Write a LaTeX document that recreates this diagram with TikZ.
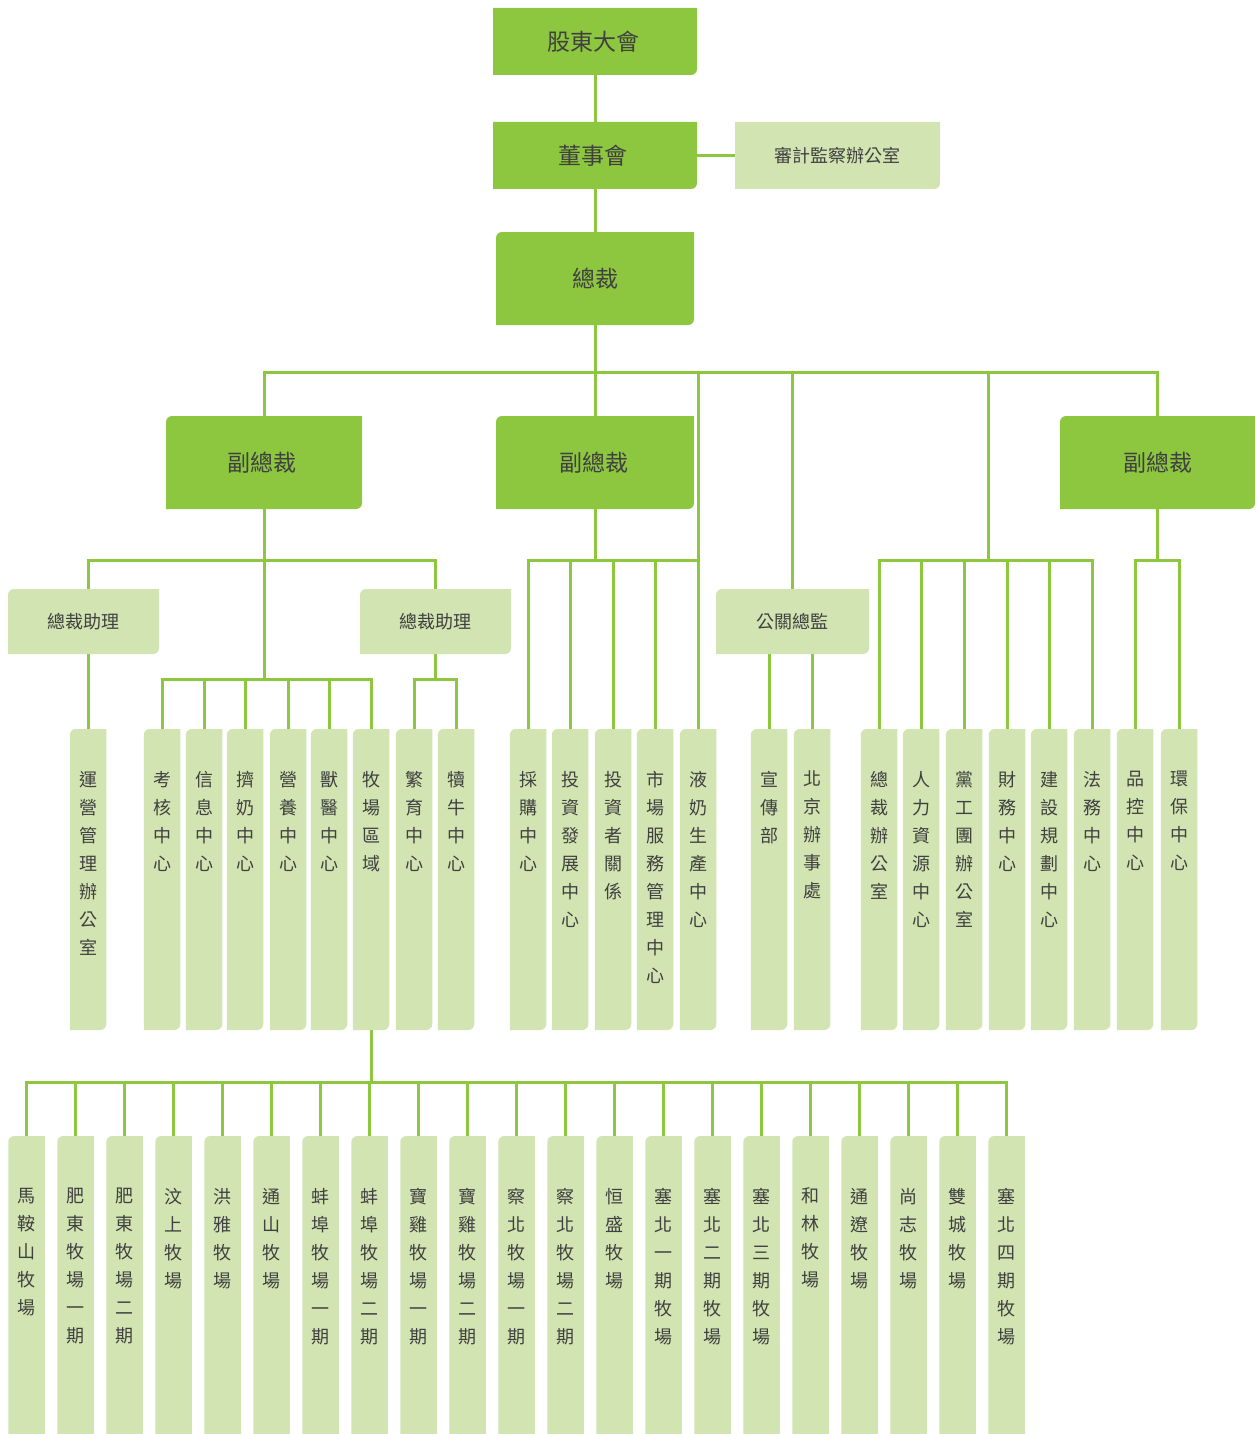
\documentclass[tikz,border=0pt]{standalone}
\usepackage{fontspec}
\newfontfamily\cjk{Noto Sans CJK TC}
\usetikzlibrary{fit,backgrounds}
\definecolor{dg}{HTML}{8DC63F}
\definecolor{lg}{HTML}{D1E4B1}
\definecolor{tx}{HTML}{404040}
% box with rounded top-left and bottom-right corners
\newcommand\obox[6]{%
  \fill[#6] (#2,{(#3+#5)/2}) [rounded corners=6pt] -- (#2,#3) -- ({(#2+#4)/2},#3) [sharp corners] -- (#4,#3) -- (#4,{(#3+#5)/2}) [rounded corners=6pt] -- (#4,#5) -- ({(#2+#4)/2},#5) [sharp corners] -- (#2,#5) -- cycle;
  \node[fit={(#2,#3) (#4,#5)}, inner sep=0pt] (#1) {};}
% box with rounded bottom-right corner only
\newcommand\oboxb[6]{%
  \fill[#6] (#2,#3) -- (#4,#3) -- (#4,{(#3+#5)/2}) [rounded corners=6pt] -- (#4,#5) -- ({(#2+#4)/2},#5) [sharp corners] -- (#2,#5) -- cycle;
  \node[fit={(#2,#3) (#4,#5)}, inner sep=0pt] (#1) {};}
% vertical box: name, centre x, top, bottom, text, text offset
\newcommand\vbx[6]{%
  \pgfmathsetmacro\xa{#2-18.25}\pgfmathsetmacro\xb{#2+18.25}%
  \obox{#1}{\xa}{#3}{\xb}{#4}{lg}%
  \node[vt, anchor=north] (#1t) at ([yshift=-#6pt]#1.north) {#5};}
\tikzset{
  ln/.style={draw=dg, line width=3pt},
  hta/.style={font=\cjk\fontsize{23}{28}\selectfont, text=tx, inner sep=0pt},
  htb/.style={font=\cjk\fontsize{18}{22}\selectfont, text=tx, inner sep=0pt},
  vt/.style={font=\cjk\fontsize{18}{28}\selectfont, text=tx, align=center, inner sep=0pt},
}
\begin{document}
\begin{tikzpicture}[x=1pt,y=-1pt]
\useasboundingbox (0,0) rectangle (1255,1434);
% top level
\oboxb{gd}{493}{8}{697}{75}{dg}   \node[hta] (gdt) at ([xshift=-2pt]gd) {股東大會};
\oboxb{dsh}{493}{122}{697}{189}{dg} \node[hta] (dsht) at ([xshift=-2pt]dsh) {董事會};
\oboxb{sj}{735}{122}{940}{189}{lg}  \node[htb] (sjt) at (sj) {審計監察辦公室};
\obox{zc}{496}{232}{694}{325}{dg}  \node[hta] (zct) at (zc) {總裁};
\obox{vp1}{166}{416}{362}{509}{dg} \node[hta] (vp1t) at ([xshift=-2pt]vp1) {副總裁};
\obox{vp2}{496}{416}{694}{509}{dg} \node[hta] (vp2t) at ([xshift=-1pt]vp2) {副總裁};
\obox{vp3}{1060}{416}{1255}{509}{dg} \node[hta] (vp3t) at (vp3) {副總裁};
\obox{zl1}{8}{589}{159}{654}{lg}   \node[htb] (zl1t) at (zl1) {總裁助理};
\obox{zl2}{360}{589}{511}{654}{lg} \node[htb] (zl2t) at (zl2) {總裁助理};
\obox{gg}{716}{589}{869}{654}{lg}  \node[htb] (ggt) at (gg) {公關總監};
% second row of vertical boxes
\vbx{yy}{88}{729}{1030}{運\\營\\管\\理\\辦\\公\\室}{42}
\vbx{kh}{162}{729}{1030}{考\\核\\中\\心}{42}
\vbx{xx}{204}{729}{1030}{信\\息\\中\\心}{42}
\vbx{jn}{245}{729}{1030}{擠\\奶\\中\\心}{42}
\vbx{ny}{288}{729}{1030}{營\\養\\中\\心}{42}
\vbx{sy}{329}{729}{1030}{獸\\醫\\中\\心}{42}
\vbx{mq}{371}{729}{1030}{牧\\場\\區\\域}{42}
\vbx{fy}{414}{729}{1030}{繁\\育\\中\\心}{42}
\vbx{dn}{456}{729}{1030}{犢\\牛\\中\\心}{42}
\vbx{cg}{528}{729}{1030}{採\\購\\中\\心}{42}
\vbx{tz}{570}{729}{1030}{投\\資\\發\\展\\中\\心}{42}
\vbx{tzz}{613}{729}{1030}{投\\資\\者\\關\\係}{42}
\vbx{sc}{655}{729}{1030}{市\\場\\服\\務\\管\\理\\中\\心}{42}
\vbx{ye}{698}{729}{1030}{液\\奶\\生\\產\\中\\心}{42}
\vbx{xc}{769}{729}{1030}{宣\\傳\\部}{42}
\vbx{bj}{812}{729}{1030}{北\\京\\辦\\事\\處}{42}
\vbx{zb}{879}{729}{1030}{總\\裁\\辦\\公\\室}{42}
\vbx{rl}{921}{729}{1030}{人\\力\\資\\源\\中\\心}{42}
\vbx{dgt}{964}{729}{1030}{黨\\工\\團\\辦\\公\\室}{42}
\vbx{cw}{1007}{729}{1030}{財\\務\\中\\心}{42}
\vbx{js}{1049}{729}{1030}{建\\設\\規\\劃\\中\\心}{42}
\vbx{fw}{1092}{729}{1030}{法\\務\\中\\心}{42}
\vbx{pk}{1135}{729}{1030}{品\\控\\中\\心}{42}
\vbx{hb}{1179}{729}{1030}{環\\保\\中\\心}{42}
% farms
\foreach \i/\t in {1/馬\\鞍\\山\\牧\\場, 2/肥\\東\\牧\\場\\一\\期, 3/肥\\東\\牧\\場\\二\\期,
  4/汶\\上\\牧\\場, 5/洪\\雅\\牧\\場, 6/通\\山\\牧\\場, 7/蚌\\埠\\牧\\場\\一\\期,
  8/蚌\\埠\\牧\\場\\二\\期, 9/寶\\雞\\牧\\場\\一\\期, 10/寶\\雞\\牧\\場\\二\\期,
  11/察\\北\\牧\\場\\一\\期, 12/察\\北\\牧\\場\\二\\期, 13/恒\\盛\\牧\\場,
  14/塞\\北\\一\\期\\牧\\場, 15/塞\\北\\二\\期\\牧\\場, 16/塞\\北\\三\\期\\牧\\場,
  17/和\\林\\牧\\場, 18/通\\遼\\牧\\場, 19/尚\\志\\牧\\場, 20/雙\\城\\牧\\場,
  21/塞\\北\\四\\期\\牧\\場}{
  \pgfmathsetmacro\cx{26.5+49*(\i-1)}
  \vbx{m\i}{\cx}{1136}{1442}{\t}{52}
}
% connectors
\begin{pgfonlayer}{background}
\coordinate (b0) at (595,372);
\coordinate (b2) at (988,560);
\coordinate (b3) at (264,560);
\coordinate (b4) at (264,679);
\coordinate (b5) at (595,560);
\coordinate (b6) at (435.5,679);
\coordinate (b7) at (371,1082);
\coordinate (b8) at (1157.5,560);
\draw[ln] (gd.south) -- (dsh.north);
\draw[ln] (dsh.east) -- (sj.west);
\draw[ln] (dsh.south) -- (zc.north);
\draw[ln] (zc.south) -- (vp2.north);
\draw[ln] (vp1.north) |- (b0) -| (vp3.north);
\draw[ln] (ye.north) -- (ye.north |- b0);
\draw[ln] (gg.north) -- (gg.north |- b0);
\draw[ln] (b2) -- (b2 |- b0);
% VP1 group
\draw[ln] (vp1.south) -- (b4);
\draw[ln] (yy.north) |- (b3) -| (b6);
\draw[ln] (fy.north) |- (b6) -| (dn.north);
\draw[ln] (kh.north) |- (b4) -| (mq.north);
\foreach \n in {xx,jn,ny,sy} \draw[ln] (\n.north) -- (\n.north |- b4);
% VP2 group
\draw[ln] (vp2.south) -- (b5);
\draw[ln] (cg.north) |- (b5) -| (ye.north);
\foreach \n in {tz,tzz,sc} \draw[ln] (\n.north) -- (\n.north |- b5);
% PR director
\draw[ln] (xc.north) -- (xc.north |- gg.south);
\draw[ln] (bj.north) -- (bj.north |- gg.south);
% right group
\draw[ln] (zb.north) |- (b2) -| (fw.north);
\foreach \n in {rl,dgt,cw,js} \draw[ln] (\n.north) -- (\n.north |- b2);
% VP3 group
\draw[ln] (vp3.south) -- (b8);
\draw[ln] (pk.north) |- (b8) -| (hb.north);
% farms
\draw[ln] (mq.south) -- (b7);
\draw[ln] (m1.north) |- (b7) -| (m21.north);
\foreach \i in {2,...,20} \draw[ln] (m\i.north) -- (m\i.north |- b7);
\end{pgfonlayer}
\end{tikzpicture}
\end{document}
